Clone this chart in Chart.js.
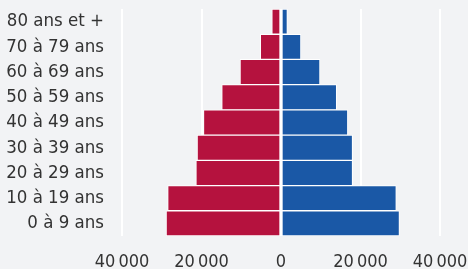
<!DOCTYPE html>
<html>
<head>
<meta charset="utf-8">
<script src="https://cdn.jsdelivr.net/npm/chart.js@4/dist/chart.umd.min.js"></script>
<style>
  html, body { margin: 0; padding: 0; background: #f2f3f5; }
  #wrap { width: 468px; height: 269px; }
</style>
</head>
<body>
<div id="wrap"><canvas id="pyramide"></canvas></div>
<script>
// tranches d'âge, du haut vers le bas
const ages = ["80 ans et +", "70 à 79 ans", "60 à 69 ans", "50 à 59 ans", "40 à 49 ans",
              "30 à 39 ans", "20 à 29 ans", "10 à 19 ans", "0 à 9 ans"];
// côté gauche (rouge) et côté droit (bleu)
const femmes = [2300, 5200, 10300, 14900, 19500, 21100, 21400, 28500, 28900];
const hommes = [1600, 5000, 9800, 14000, 16800, 18000, 18000, 29000, 29800];
const ticksX = [-40000, -20000, 0, 20000, 40000];

const fontFamily = "'DejaVu Sans Condensed', 'DejaVu Sans', sans-serif";

new Chart(document.getElementById("pyramide"), {
    type: "bar",
    data: {
        labels: ages,
        datasets: [{
            label: "Femmes",
            data: femmes.map(v => -v),
            backgroundColor: "#b5123e",
            borderColor: "#ffffff",
            borderWidth: 1,
            borderSkipped: false
        }, {
            label: "Hommes",
            data: hommes,
            backgroundColor: "#1a58a6",
            borderColor: "#ffffff",
            borderWidth: 1,
            borderSkipped: false
        }]
    },
    options: {
        indexAxis: "y",
        responsive: true,
        maintainAspectRatio: false,
        animation: false,
        barPercentage: 1,
        categoryPercentage: 1,
        layout: { padding: { left: 0, right: 28, top: 9, bottom: 0 } },
        plugins: {
            legend: { display: false },
            tooltip: { enabled: false }
        },
        scales: {
            x: {
                stacked: true,
                min: -40000,
                max: 40000,
                afterBuildTicks: function (axis) {
                    axis.ticks = ticksX.map(v => ({ value: v }));
                },
                afterFit: function (axis) {
                    axis.height = 33;
                    axis.paddingLeft = 0;
                    axis.paddingRight = 0;
                },
                grid: { color: "#ffffff", lineWidth: 2, drawTicks: false },
                border: { display: false },
                ticks: {
                    padding: 15.5,
                    maxRotation: 0,
                    color: "#333333",
                    font: { family: fontFamily, size: 18 },
                    callback: v => Math.abs(v).toLocaleString("fr-FR")
                }
            },
            y: {
                stacked: true,
                afterFit: function (axis) {
                    axis.width = 122;
                    axis.paddingTop = 0;
                    axis.paddingBottom = 0;
                },
                grid: { display: false, drawTicks: false },
                border: { display: false },
                ticks: {
                    autoSkip: false,
                    padding: 18,
                    color: "#333333",
                    font: { family: fontFamily, size: 18.5 }
                }
            }
        }
    }
});
</script>
</body>
</html>
